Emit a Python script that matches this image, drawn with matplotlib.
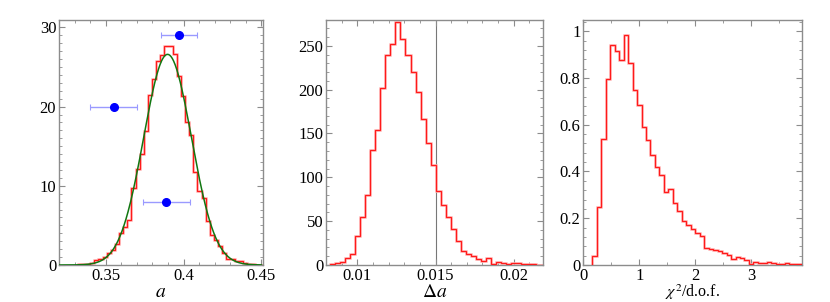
import numpy as np
import matplotlib
matplotlib.use("Agg")
import matplotlib.pyplot as plt
from matplotlib.ticker import MultipleLocator, FixedLocator

# ---------------- data ----------------
# Panel 1: histogram of a (equal-width bins)
a_bin_start = 0.33205
a_bin_width = 0.00265
a_counts = [0.1, 0.1, 0.15, 0.3, 0.6, 0.8, 1.05, 1.5, 1.9, 2.7,
            4.0, 4.8, 5.7, 9.7, 12.1, 14.0, 16.9, 21.5, 23.5, 25.7,
            26.5, 27.6, 27.6, 26.7, 23.9, 21.4, 18.1, 16.4, 11.8, 9.4,
            8.4, 5.6, 3.8, 3.2, 2.4, 1.5, 0.8, 0.8, 0.5, 0.5,
            0.3, 0.1, 0.1, 0.05, 0.05]
# Gaussian fit parameters (green curve)
fit_mu, fit_sigma, fit_amp = 0.3897, 0.0153, 26.6
# three sample points with horizontal error bars
pts_x = [0.355, 0.397, 0.389]
pts_y = [20, 29, 8]
pts_xerr = [0.015, 0.0116, 0.015]

# Panel 2: histogram of Delta a
da_bin_start = 0.00828
da_bin_width = 0.00032
da_counts = [0.8, 2.3, 3.4, 7.6, 12.2, 33, 55, 80, 131, 154,
             202, 239, 252, 277, 258, 239, 220, 197, 166, 139,
             114, 84, 68, 55, 41, 27, 16, 12, 10.6, 6.5,
             4.6, 7.6, 1.5, 3.4, 2.7, 1.5, 2.3, 2.3, 0.8, 1.5,
             0.8, 0.4, 0.4]
da_ref_line = 0.015

# Panel 3: histogram of chi^2/d.o.f.
chi_bin_start = 0.16
chi_bin_width = 0.08
chi_counts = [0.037, 0.25, 0.539, 0.797, 0.943, 0.917, 0.877, 0.983, 0.864, 0.75,
              0.684, 0.589, 0.533, 0.47, 0.421, 0.386, 0.314, 0.324, 0.267, 0.229,
              0.189, 0.171, 0.153, 0.136, 0.126, 0.071, 0.067, 0.063, 0.060, 0.053,
              0.043, 0.024, 0.034, 0.030, 0.020, 0.006, 0.012, 0.010, 0.008, 0.013,
              0.008, 0.004, 0.006, 0.010, 0.005, 0.006, 0.004]

# ---------------- style ----------------
plt.rcParams['font.family'] = ['Liberation Serif', 'DejaVu Serif']
plt.rcParams['mathtext.fontset'] = 'stix'
FS = 12
FRAME = '#8c8c8c'
RED = '#ff1a1a'

fig = plt.figure(figsize=(8.3, 3.02), dpi=100)
H = 0.8129
B = 0.1225
ax1 = fig.add_axes([0.0711, B, 0.2458, H])
ax2 = fig.add_axes([0.3928, B, 0.2620, H])
ax3 = fig.add_axes([0.7028, B, 0.2629, H])


def style(ax):
    for s in ax.spines.values():
        s.set_color(FRAME)
        s.set_linewidth(1.0)
    ax.tick_params(which='both', direction='in', top=True, right=True,
                   color=FRAME, labelsize=FS)
    ax.tick_params(axis='x', which='major', pad=2)
    ax.tick_params(axis='y', which='major', pad=2)
    ax.tick_params(which='major', length=4, width=0.8)
    ax.tick_params(which='minor', length=2.2, width=0.6)


def step_hist(ax, start, width, counts):
    edges = start + width * np.arange(len(counts) + 1)
    ax.stairs(counts, edges, color='#ffb4b4', lw=1.8, baseline=0, zorder=2)
    ax.stairs(counts, edges, color=RED, lw=0.9, baseline=0, zorder=3)


def xlabel(ax, text, size):
    ax.set_xlabel(text, fontsize=size, va='center')
    ax.xaxis.set_label_coords(0.5, -0.112)


# Panel 1
style(ax1)
step_hist(ax1, a_bin_start, a_bin_width, a_counts)
xx = np.linspace(0.32, 0.45, 400)
ax1.plot(xx, fit_amp * np.exp(-0.5 * ((xx - fit_mu) / fit_sigma) ** 2),
         color='#117711', lw=1.1, zorder=4)
ax1.errorbar(pts_x, pts_y, xerr=pts_xerr, fmt='o', color='#0000ff', ms=5.5,
             ecolor='#9a9aff', elinewidth=1.0, capsize=2, capthick=0.8, zorder=5)
ax1.set_xlim(0.32, 0.451)
ax1.set_ylim(0, 31)
ax1.xaxis.set_major_locator(FixedLocator([0.35, 0.4, 0.45]))
ax1.xaxis.set_minor_locator(MultipleLocator(0.01))
ax1.yaxis.set_major_locator(MultipleLocator(10))
ax1.yaxis.set_minor_locator(MultipleLocator(1))
ax1.set_xticklabels(['0.35', '0.4', '0.45'])
xlabel(ax1, r'$a$', 14)

# Panel 2
style(ax2)
step_hist(ax2, da_bin_start, da_bin_width, da_counts)
ax2.axvline(da_ref_line, color='#777777', lw=0.8, zorder=1)
ax2.set_xlim(0.008, 0.0219)
ax2.set_ylim(0, 280)
ax2.xaxis.set_major_locator(FixedLocator([0.01, 0.015, 0.02]))
ax2.xaxis.set_minor_locator(MultipleLocator(0.001))
ax2.set_xticklabels(['0.01', '0.015', '0.02'])
ax2.yaxis.set_major_locator(MultipleLocator(50))
ax2.yaxis.set_minor_locator(MultipleLocator(10))
xlabel(ax2, r'$\Delta a$', 14)

# Panel 3
style(ax3)
step_hist(ax3, chi_bin_start, chi_bin_width, chi_counts)
ax3.set_xlim(0, 3.9)
ax3.set_ylim(0, 1.05)
ax3.xaxis.set_major_locator(MultipleLocator(1))
ax3.xaxis.set_minor_locator(MultipleLocator(0.5))
ax3.yaxis.set_major_locator(FixedLocator([0, 0.2, 0.4, 0.6, 0.8, 1.0]))
ax3.yaxis.set_minor_locator(MultipleLocator(0.04))
ax3.set_yticklabels(['0', '0.2', '0.4', '0.6', '0.8', '1'])
xlabel(ax3, r'$\chi^2$/d.o.f.', 11.5)

fig.savefig('out.png', dpi=100)
